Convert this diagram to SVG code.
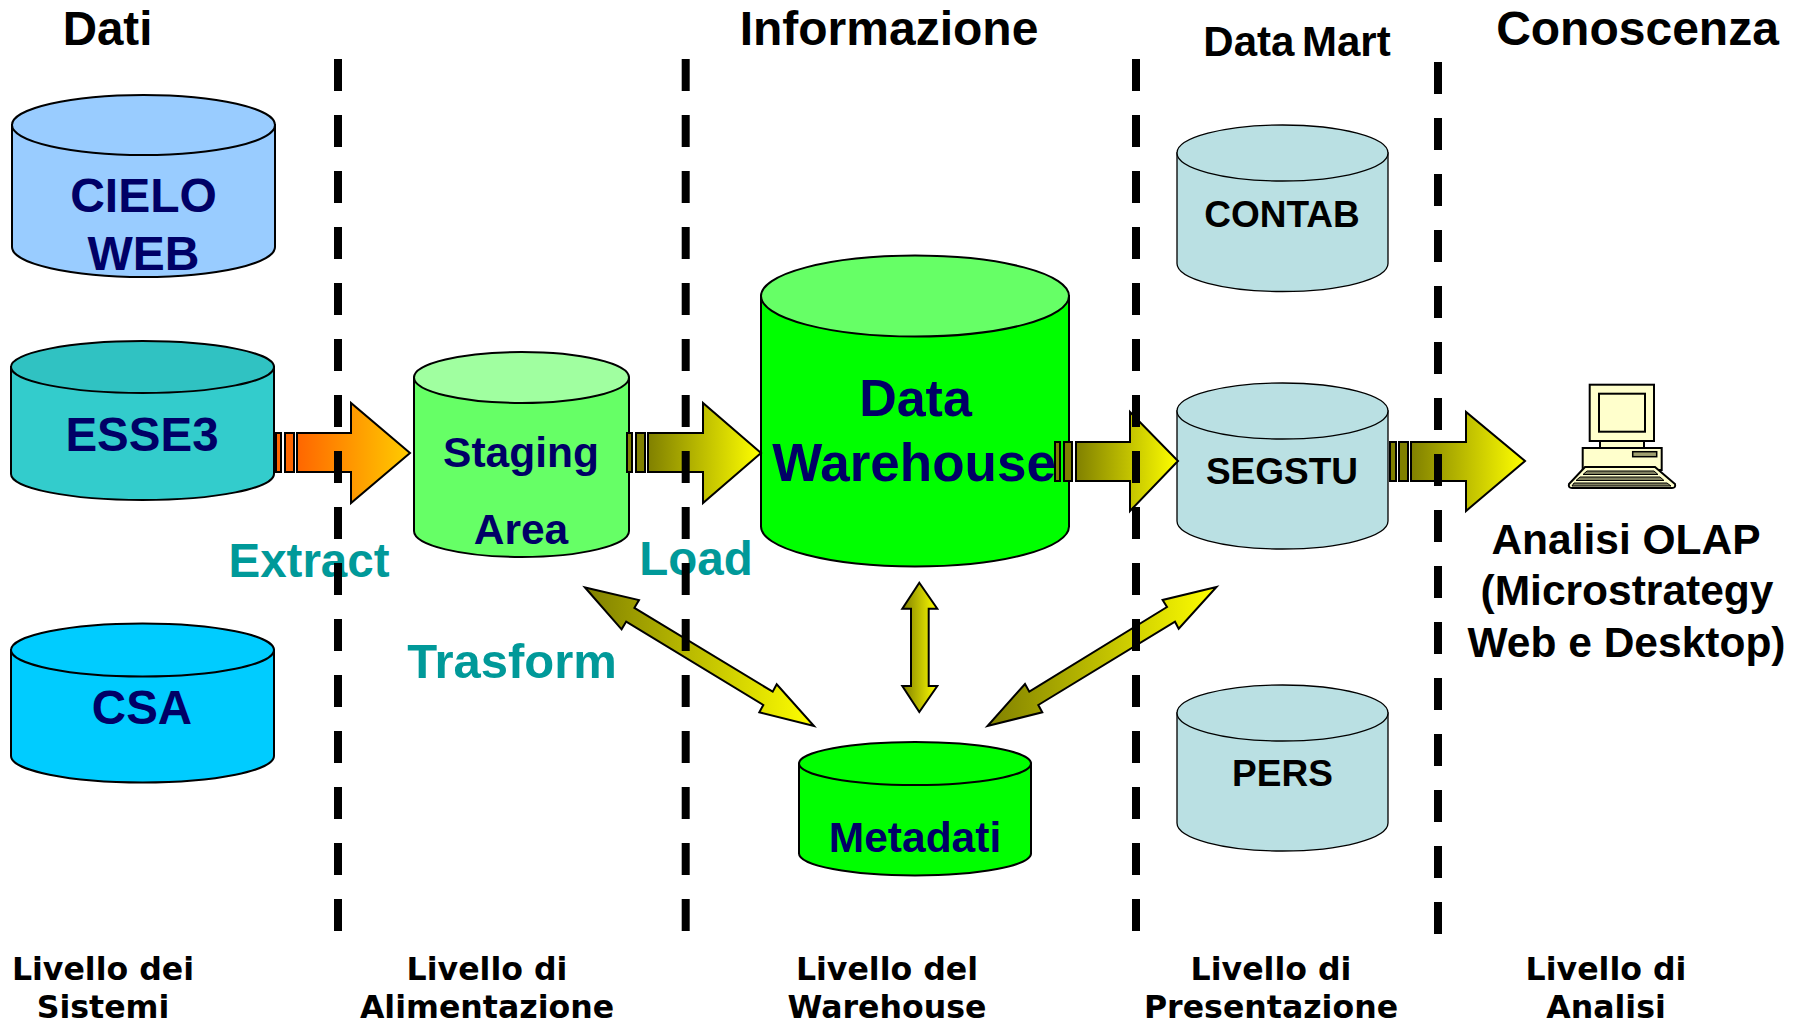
<svg xmlns="http://www.w3.org/2000/svg" width="1794" height="1022" viewBox="0 0 1794 1022">
<style>
text{font-family:"Liberation Sans",Arial,sans-serif;font-weight:bold;text-anchor:middle}
.h{font-size:47.500px;fill:#000}
.n{fill:#000066}
.t{font-size:47px;fill:#009999}
.k{font-size:37px;fill:#000}
.b{font-family:"DejaVu Sans",Verdana,sans-serif;font-size:31.600px;fill:#000}
.o{font-size:42.500px;fill:#000}
.c{stroke:#000;stroke-width:2}
.m{stroke:#000;stroke-width:1.3;fill:#BAE0E3}
.a{stroke:#000;stroke-width:2}
.d{stroke:#000;stroke-width:8;stroke-dasharray:32 24;fill:none}
.p{stroke:#000;stroke-width:2;fill:#FFFFCC}
.y{fill:url(#gy)}
.s{fill:#808000}
.r{fill:#FF6600}
</style>
<defs>
<linearGradient id="go"><stop offset="0" stop-color="#FF6600"/><stop offset="1" stop-color="#FFCC00"/></linearGradient>
<linearGradient id="gy"><stop offset="0" stop-color="#808000"/><stop offset="1" stop-color="#FFFF00"/></linearGradient>
</defs>
<rect width="1794" height="1022" fill="#fff"/>

<g id="titles">
<text class="h" x="107.500" y="45">Dati</text>
<text class="h" x="889" y="45" style="font-size:48px">Informazione</text>
<text class="h" x="1297" y="56" word-spacing="-4" style="font-size:42px">Data Mart</text>
<text class="h" x="1637.500" y="45" style="font-size:48px">Conoscenza</text>
</g>

<g id="cielo">
<path class="c" fill="#99CCFF" d="M12,125V247A131.500,30 0 0 0 275,247V125Z"/>
<ellipse class="c" fill="#99CCFF" cx="143.500" cy="125" rx="131.500" ry="30"/>
<text class="n" x="143.500" y="212" style="font-size:48px">CIELO</text>
<text class="n" x="143.500" y="270" style="font-size:48px">WEB</text>
</g>
<g id="esse3">
<path class="c" fill="#33CCCC" d="M11,367V474A131.500,26 0 0 0 274,474V367Z"/>
<ellipse class="c" fill="#30C2C2" cx="142.500" cy="367" rx="131.500" ry="26"/>
<text class="n" x="142" y="451" style="font-size:47.500px">ESSE3</text>
</g>
<g id="csa">
<path class="c" fill="#00CCFF" d="M11,650V756A131.500,26.500 0 0 0 274,756V650Z"/>
<ellipse class="c" fill="#00CCFF" cx="142.500" cy="650" rx="131.500" ry="26.500"/>
<text class="n" x="142" y="724" style="font-size:47.500px">CSA</text>
</g>
<g id="staging">
<path class="c" fill="#66FF66" d="M414,377.500V531A107.500,26 0 0 0 629,531V377.500Z"/>
<ellipse class="c" fill="#A0FFA0" cx="521.500" cy="377.500" rx="107.500" ry="25.500"/>
<text class="n" x="521" y="467" style="font-size:42.500px">Staging</text>
<text class="n" x="521" y="544" style="font-size:42.500px">Area</text>
</g>
<g id="dw">
<path class="c" fill="#00FF00" d="M761,296V526.500A154,40 0 0 0 1069,526.500V296Z"/>
<ellipse class="c" fill="#66FF66" cx="915" cy="296" rx="154" ry="40.500"/>
<text class="n" x="915.500" y="416" style="font-size:52px">Data</text>
<text class="n" x="914" y="481" style="font-size:53px">Warehouse</text>
</g>
<g id="metadati">
<path class="c" fill="#00FF00" d="M799,763.500V853.500A116,22 0 0 0 1031,853.500V763.500Z"/>
<ellipse class="c" fill="#00FF00" cx="915" cy="763.500" rx="116" ry="21.500"/>
<text class="n" x="915" y="852" style="font-size:42.500px">Metadati</text>
</g>
<g id="contab">
<path class="m" d="M1177,153V263.500A105.500,28 0 0 0 1388,263.500V153Z"/>
<ellipse class="m" cx="1282.500" cy="153" rx="105.500" ry="28"/>
<text class="k" x="1282" y="226.500">CONTAB</text>
</g>
<g id="segstu">
<path class="m" d="M1177,411V521A105.500,28 0 0 0 1388,521V411Z"/>
<ellipse class="m" cx="1282.500" cy="411" rx="105.500" ry="28"/>
<text class="k" x="1282" y="484">SEGSTU</text>
</g>
<g id="pers">
<path class="m" d="M1177,713V823A105.500,28 0 0 0 1388,823V713Z"/>
<ellipse class="m" cx="1282.500" cy="713" rx="105.500" ry="28"/>
<text class="k" x="1282.500" y="786">PERS</text>
</g>

<g id="operations">
<text class="t" x="309" y="577" style="font-size:47.500px">Extract</text>
<text class="t" x="696" y="575" style="font-size:47.500px">Load</text>
<text class="t" x="512" y="678" style="font-size:49px">Trasform</text>
</g>

<g id="connectors">
<g>
<rect class="a r" x="276" y="433" width="5" height="39"/><rect class="a r" x="285" y="433" width="9" height="39"/>
<path class="a" fill="url(#go)" d="M297,433H351V403L410,453L351,503V472H297Z"/>
</g>
<g>
<rect class="a s" x="627" y="433" width="5" height="39"/><rect class="a s" x="636" y="433" width="9" height="39"/>
<path class="a y" d="M648,433H703V403L761,453L703,503V472H648Z"/>
</g>
<g>
<rect class="a s" x="1055" y="442" width="5" height="39"/><rect class="a s" x="1064" y="442" width="8" height="39"/>
<path class="a y" d="M1076,442H1130V412L1178,461L1130,511V481H1076Z"/>
</g>
<g>
<rect class="a s" x="1390" y="442" width="6" height="39"/><rect class="a s" x="1399" y="442" width="9" height="39"/>
<path class="a y" d="M1411,442H1466V412L1525,461L1466,511V481H1411Z"/>
</g>
<path class="a y" d="M585,587.500L621.600,629.300L626.200,621.600L763.300,705L759.300,712.300L814,726L776.700,684.300L772.700,691.700L634.400,607.800L639,600.100Z"/>
<path class="a y" d="M919.300,582.700L937.300,608.700H928.700V686H937.300L919.300,712L902.300,686H911V608.700H902.300Z"/>
<path class="a y" d="M1216.500,587L1162.600,600L1167,607L1029.300,691.700L1025,684L987.500,726L1042.300,712.300L1038.300,705L1175,621.700L1178.700,628.700Z"/>
</g>

<g id="dividers">
<line class="d" x1="338" y1="59" x2="338" y2="931"/>
<line class="d" x1="685.700" y1="59" x2="685.700" y2="931"/>
<line class="d" x1="1136" y1="59" x2="1136" y2="931"/>
<line class="d" x1="1438" y1="62" x2="1438" y2="934"/>
</g>

<g id="computer">
<rect class="p" x="1589.700" y="384.700" width="64.300" height="56.300"/>
<rect class="p" x="1599" y="393.700" width="46" height="38"/>
<rect class="p" x="1600" y="441" width="44" height="7"/>
<rect class="p" x="1582.700" y="448" width="79" height="22"/>
<rect x="1632.700" y="451.700" width="24" height="5" fill="#A0A070" stroke="#000" stroke-width="1.500"/>
<path class="p" d="M1585,467H1655L1675,484Q1676,488 1672,488H1572Q1568,488 1569,484Z"/>
<path d="M1587,471H1654L1658,474.500H1583ZM1580,477H1660L1664,480.500H1576ZM1574,483H1667L1671,486H1572Z" fill="#808060" stroke="#000" stroke-width="1"/>
</g>
<g id="analisi">
<text class="o" x="1626" y="554">Analisi OLAP</text>
<text class="o" x="1627" y="605">(Microstrategy</text>
<text class="o" x="1626.500" y="657">Web e Desktop)</text>
</g>

<g id="levels">
<text class="b" x="103" y="980">Livello dei</text>
<text class="b" x="103" y="1018">Sistemi</text>
<text class="b" x="487" y="980">Livello di</text>
<text class="b" x="487" y="1018">Alimentazione</text>
<text class="b" x="887" y="980">Livello del</text>
<text class="b" x="887" y="1018">Warehouse</text>
<text class="b" x="1271" y="980">Livello di</text>
<text class="b" x="1271" y="1018">Presentazione</text>
<text class="b" x="1606" y="980">Livello di</text>
<text class="b" x="1606" y="1018">Analisi</text>
</g>
</svg>
